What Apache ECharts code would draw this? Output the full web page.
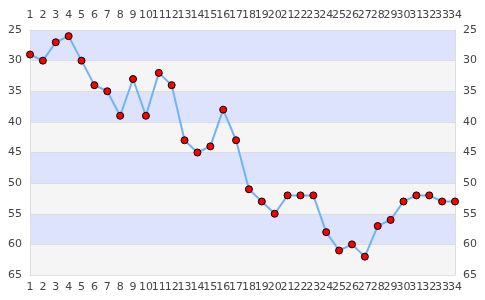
<!DOCTYPE html>
<html><head><meta charset="utf-8">
<script src="https://cdn.jsdelivr.net/npm/echarts@6/dist/echarts.min.js"></script>
<style>html,body{margin:0;padding:0;background:#fff}#c{width:485px;height:300px}</style>
</head><body><div id="c"></div>
<script>
const categories = ['1','2','3','4','5','6','7','8','9','10','11','12','13','14','15','16','17','18','19','20','21','22','23','24','25','26','27','28','29','30','31','32','33','34'];
const values = [29,30,27,26,30,34,35,39,33,39,32,34,43,45,44,38,43,51,53,55,52,52,52,58,61,60,62,57,56,53,52,52,53,53];
const yTicks = [25,30,35,40,45,50,55,60,65];

const chart = echarts.init(document.getElementById('c'));
const font = {fontFamily:'DejaVu Sans', fontSize:11, color:'#444'};
const axLine = {show:true, lineStyle:{color:'#dddddd'}};
const xBase = {type:'category', data:categories, boundaryGap:false, axisLine:axLine, axisTick:{show:false},
  splitLine:{show:false}};
const yBase = {type:'value', inverse:true, min:yTicks[0], max:yTicks[yTicks.length-1], interval:5,
  axisLine:axLine, axisTick:{show:false}, axisLabel:Object.assign({margin:8}, font)};
chart.setOption({
  animation:false,
  grid:{left:30, right:30, top:30, bottom:25, containLabel:false},
  xAxis:[Object.assign({position:'bottom', axisLabel:Object.assign({interval:0, margin:7}, font)}, xBase),
         Object.assign({position:'top', axisLabel:Object.assign({interval:0, margin:9}, font)}, xBase)],
  yAxis:[
    Object.assign({position:'left', splitLine:{show:true, lineStyle:{color:'#dddddd'}},
      splitArea:{show:true, areaStyle:{color:['#dde3fc','#f5f5f5']}}}, yBase),
    Object.assign({position:'right', splitLine:{show:false}, splitArea:{show:false}}, yBase)
  ],
  series:[{type:'line', data:values, xAxisIndex:0, yAxisIndex:0,
    lineStyle:{color:'#6eb4f7', width:2},
    symbol:'circle', symbolSize:7,
    itemStyle:{color:'#ff0000', borderColor:'#000', borderWidth:1}}]
});
</script></body></html>
